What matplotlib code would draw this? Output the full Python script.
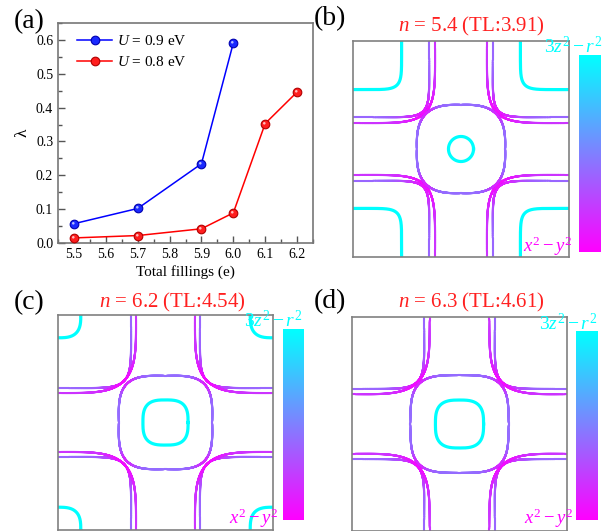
import numpy as np
import matplotlib
matplotlib.use('Agg')
import matplotlib.pyplot as plt
from matplotlib.collections import LineCollection
from matplotlib.colors import LinearSegmentedColormap, Normalize
from matplotlib.ticker import MultipleLocator
from matplotlib.path import Path
import matplotlib.cm as cm

plt.rcParams['font.family'] = ['Liberation Serif', 'DejaVu Serif']
plt.rcParams['mathtext.fontset'] = 'custom'
plt.rcParams['mathtext.rm'] = 'Liberation Serif'
plt.rcParams['mathtext.it'] = 'Liberation Serif:italic'
plt.rcParams['mathtext.bf'] = 'Liberation Serif:bold'

# ---------------- data: panel (a) ----------------
fill_u09 = [5.5, 5.7, 5.9, 6.0]
lam_u09 = [0.057, 0.102, 0.234, 0.591]
fill_u08 = [5.5, 5.7, 5.9, 6.0, 6.1, 6.2]
lam_u08 = [0.015, 0.022, 0.042, 0.089, 0.353, 0.446]
series_labels = [r'$U$ = 0.9 eV', r'$U$ = 0.8 eV']
xticks_a = [5.5, 5.6, 5.7, 5.8, 5.9, 6.0, 6.1, 6.2]
yticks_a = [0.0, 0.1, 0.2, 0.3, 0.4, 0.5, 0.6]
xlabel_a = 'Total fillings (e)'
ylabel_a = 'λ'

# ---------------- data: Fermi-surface panels (b), (c), (d) ----------------
fs_fillings = ['5.4', '6.2', '6.3']
fs_tl = ['3.91', '4.54', '4.61']
fs_panel_labels = ['(b)', '(c)', '(d)']
# pocket half-sizes in units of pi (BZ from -1 to 1) and superellipse exponents
gamma_cyan_size = [0.116, 0.21, 0.224]
gamma_cyan_exp = [2.0, 3.0, 3.0]
gamma_sq_size = [0.41, 0.436, 0.456]
gamma_sq_exp = [3.0, 3.6, 3.6]
corner_cyan_size = [0.45, 0.212, 0.0]
corner_cyan_exp = [7.0, 3.0, 3.0]
cross_in_size = [0.706, 0.68, 0.672]
cross_in_exp = [8.4, 6.8, 6.8]
cross_out_size = [0.76, 0.726, 0.722]
cross_out_exp = [5.2, 4.1, 4.1]
cbar_top_label = r'$\mathit{3z^2-r^2}$'
cbar_bot_label = r'$\mathit{x^2-y^2}$'

# ---------------- figure ----------------
W, H = 605, 531
fig = plt.figure(figsize=(W / 100, H / 100), dpi=100)

def fx(px):
    return px / W

def fy(py):
    return 1 - py / H

def box(l, t, r, b):
    return [fx(l), fy(b), fx(r) - fx(l), fy(t) - fy(b)]

# ---- panel (a)
ax = fig.add_axes(box(58, 23, 313, 243))
circ = [[-0.14 + 0.15 * np.cos(t), 0.14 + 0.15 * np.sin(t)]
        for t in np.linspace(0, 2 * np.pi, 30)]
hl = Path(np.array([[0.5, 0.5], [-0.5, -0.5]] + circ),
          [Path.MOVETO, Path.MOVETO, Path.MOVETO] + [Path.LINETO] * 29)

styles = [dict(c='#0000ff', face='#1a2aff', edge='#0000b0', hi='#c8d0ff'),
          dict(c='#ff0000', face='#ff1e1e', edge='#b00000', hi='#ffd0d0')]
handles = []
for xs, ys, st in zip([fill_u09, fill_u08], [lam_u09, lam_u08], styles):
    l1, = ax.plot(xs, ys, '-', color=st['c'], lw=1.1, marker='o', ms=6.2,
                  mfc=st['face'], mec=st['edge'], mew=0.8, zorder=3)
    ax.plot(xs, ys, ls='none', marker=hl, ms=6.2, mfc=st['hi'],
            mec='none', alpha=0.9, zorder=4)
    handles.append(l1)

ax.legend(handles, series_labels, numpoints=1,
          loc='upper left', bbox_to_anchor=(0.075, 0.95), frameon=False,
          fontsize=11, handlelength=2.3, handletextpad=0.3, labelspacing=0.45,
          borderpad=0, borderaxespad=0)

ax.set_xlim(5.45, 6.25)
ax.set_ylim(0, 0.65)
ax.set_xticks(xticks_a)
ax.set_xticklabels([f'{v:.1f}' for v in xticks_a])
ax.set_yticks(yticks_a)
ax.set_yticklabels([f'{v:.1f}' for v in yticks_a])
ax.xaxis.set_minor_locator(MultipleLocator(0.05))
ax.yaxis.set_minor_locator(MultipleLocator(0.05))
ax.tick_params(which='both', direction='in', top=False, right=False,
               labelsize=10, color='#555555', width=1.0)
ax.tick_params(which='major', length=5)
ax.tick_params(which='minor', length=3)
for sp in ax.spines.values():
    sp.set_color('#777777')
    sp.set_linewidth(1.2)
ax.set_xlabel(xlabel_a, fontsize=11, labelpad=3)
ax.set_ylabel(ylabel_a, fontsize=12.5, labelpad=4)

fig.text(fx(29), fy(22), '(a)', fontsize=20, ha='center', va='center')

# ---- Fermi-surface panels
cmap = LinearSegmentedColormap.from_list('orb', ['#ff00ff', '#00ffff'])
norm = Normalize(0, 1)

def superellipse(cx, cy, a, n, num=3000):
    t = np.linspace(0, 2 * np.pi, num)
    c, s = np.cos(t), np.sin(t)
    x = cx + a * np.sign(c) * np.abs(c) ** (2 / n)
    y = cy + a * np.sign(s) * np.abs(s) ** (2 / n)
    return x, y

def draw_pocket(ax, cx, cy, a, n, w_edge, w_diag, lw):
    x, y = superellipse(cx, cy, a, n)
    phi = np.arctan2(y - cy, x - cx)
    d = np.abs(np.sin(2 * phi)) ** 10
    w = w_edge - (w_edge - w_diag) * d
    pts = np.column_stack([x, y]).reshape(-1, 1, 2)
    segs = np.concatenate([pts[:-1], pts[1:]], axis=1)
    lc = LineCollection(segs, cmap=cmap, norm=norm, linewidths=lw,
                        capstyle='round', joinstyle='round')
    lc.set_array(0.5 * (w[:-1] + w[1:]))
    ax.add_collection(lc)

fs_boxes = [(353, 41, 569, 257), (58, 315, 273, 530), (352, 317, 567, 531)]
cbar_boxes = [(579, 55, 601, 252), (283, 329, 304, 520), (576, 331, 598, 520)]
title_pos = [(471, 26), (172, 302), (471, 302)]
label_pos = [(330, 19), (29, 303), (330, 302)]
top_lab_pos = [(602, 53), (302, 327), (597, 330)]
bot_lab_pos = [(572, 252), (278, 524), (573, 524)]
corners = [(-1, -1), (-1, 1), (1, -1), (1, 1)]

for i in range(3):
    axf = fig.add_axes(box(*fs_boxes[i]))
    axf.set_xlim(-1, 1)
    axf.set_ylim(-1, 1)
    axf.set_xticks([])
    axf.set_yticks([])
    for sp in axf.spines.values():
        sp.set_color('#808080')
        sp.set_linewidth(1.2)
    # cyan pockets
    if corner_cyan_size[i] > 0:
        for cx, cy in corners:
            x, y = superellipse(cx, cy, corner_cyan_size[i], corner_cyan_exp[i])
            axf.plot(x, y, color=cmap(1.0), lw=2.3, solid_capstyle='round')
    x, y = superellipse(0, 0, gamma_cyan_size[i], gamma_cyan_exp[i])
    axf.plot(x, y, color=cmap(1.0), lw=2.3)
    # two corner-centred bands
    for cx, cy in corners:
        draw_pocket(axf, cx, cy, cross_in_size[i], cross_in_exp[i], 0.40, 0.10, 1.5)
        draw_pocket(axf, cx, cy, cross_out_size[i], cross_out_exp[i], 0.20, 0.04, 1.5)
    # central rounded square
    draw_pocket(axf, 0, 0, gamma_sq_size[i], gamma_sq_exp[i], 0.42, 0.15, 1.5)

    cax = fig.add_axes(box(*cbar_boxes[i]))
    cb = fig.colorbar(cm.ScalarMappable(norm=norm, cmap=cmap), cax=cax)
    cb.outline.set_visible(False)
    cb.set_ticks([])

    fig.text(fx(title_pos[i][0]), fy(title_pos[i][1]),
             r'$n$ = ' + fs_fillings[i] + ' (TL:' + fs_tl[i] + ')',
             color='#ff2020', fontsize=15, ha='center', va='center')
    fig.text(fx(label_pos[i][0]), fy(label_pos[i][1]), fs_panel_labels[i],
             fontsize=20, ha='center', va='center')
    fig.text(fx(top_lab_pos[i][0]), fy(top_lab_pos[i][1]), cbar_top_label,
             color=cmap(1.0), fontsize=14, ha='right', va='baseline')
    fig.text(fx(bot_lab_pos[i][0]), fy(bot_lab_pos[i][1]), cbar_bot_label,
             color=cmap(0.0), fontsize=13.5, ha='right', va='baseline')

fig.savefig('out.png', dpi=100)
